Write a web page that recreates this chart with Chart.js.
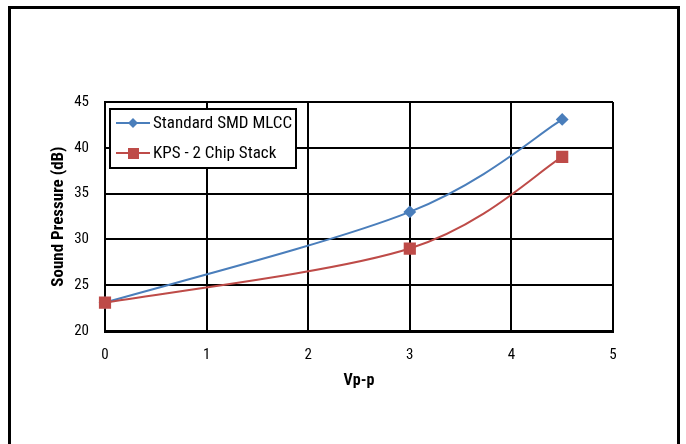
<!DOCTYPE html>
<html>
<head>
<meta charset="utf-8">
<script src="https://cdn.jsdelivr.net/npm/chart.js@4/dist/chart.umd.min.js"></script>
<style>
  html, body { margin: 0; padding: 0; background: #fff; }
  #box { width: 686px; height: 444px; position: relative; }
</style>
</head>
<body>
<div id="box"><canvas id="chart" width="686" height="444"></canvas></div>
<script>
// values
const voltages = [0, 3, 4.5];
const standardSmd = [23.1, 33.0, 43.1];
const kpsStack = [23.1, 29.0, 39.0];
const seriesNames = ["Standard SMD MLCC", "KPS - 2 Chip Stack"];
const xTicks = [0, 1, 2, 3, 4, 5];
const yTicks = [20, 25, 30, 35, 40, 45];

const FONT = "'Roboto Condensed', 'Liberation Sans Narrow', 'DejaVu Sans Condensed', Roboto, sans-serif";
const blue = "#4a7ebb";
const red = "#be4b48";

const toPoints = (ys) => voltages.map((v, i) => ({ x: v, y: ys[i] }));

// frame round the whole picture (open at the bottom)
const framePlugin = {
  id: "frame",
  beforeDraw(chart) {
    const ctx = chart.ctx;
    ctx.save();
    ctx.fillStyle = "#fff";
    ctx.fillRect(0, 0, chart.width, chart.height);
    ctx.strokeStyle = "#000";
    ctx.lineWidth = 3;
    ctx.strokeRect(9.5, 7.5, 669, 460);
    ctx.restore();
  }
};

// spreadsheet style smoothing: control points at 1/6 of the neighbour span
const smoothLines = {
  id: "smoothLines",
  beforeDatasetDraw(chart, args) {
    const pts = args.meta.data;
    pts.forEach((p, i) => {
      const prev = pts[i - 1] || p;
      const next = pts[i + 1] || p;
      const dx = (next.x - prev.x) / 6;
      const dy = (next.y - prev.y) / 6;
      p.cp1x = p.x - dx;
      p.cp1y = p.y - dy;
      p.cp2x = p.x + dx;
      p.cp2y = p.y + dy;
    });
    args.meta.dataset._pointsUpdated = true;
  }
};

// legend box drawn inside the plot, top left
const legendBox = {
  id: "legendBox",
  afterDraw(chart) {
    const ctx = chart.ctx;
    const x0 = 110, y0 = 109, w = 186, h = 59;
    ctx.save();
    ctx.fillStyle = "#fff";
    ctx.fillRect(x0, y0, w, h);
    ctx.strokeStyle = "#000";
    ctx.lineWidth = 2;
    ctx.strokeRect(x0, y0, w, h);
    chart.data.datasets.forEach((ds, i) => {
      const cy = y0 + 14 + i * 30;
      ctx.strokeStyle = ds.borderColor;
      ctx.lineWidth = 2;
      ctx.beginPath();
      ctx.moveTo(116, cy);
      ctx.lineTo(150, cy);
      ctx.stroke();
      ctx.fillStyle = ds.backgroundColor;
      ctx.beginPath();
      if (ds.pointStyle === "rectRot") {
        ctx.moveTo(133, cy - 5);
        ctx.lineTo(138, cy);
        ctx.lineTo(133, cy + 5);
        ctx.lineTo(128, cy);
      } else {
        ctx.rect(128, cy - 5, 11, 11);
      }
      ctx.fill();
      ctx.fillStyle = "#000";
      ctx.font = "17px " + FONT;
      ctx.textBaseline = "middle";
      ctx.textAlign = "left";
      ctx.fillText(ds.label, 153, cy + 1);
    });
    ctx.restore();
  }
};

new Chart(document.getElementById("chart"), {
  type: "line",
  plugins: [framePlugin, smoothLines, legendBox],
  data: {
    datasets: [
      {
        label: seriesNames[0],
        data: toPoints(standardSmd),
        borderColor: blue,
        backgroundColor: blue,
        borderWidth: 2,
        pointStyle: "rectRot",
        pointRadius: 5,
        pointHoverRadius: 5,
        tension: 0.4,
        order: 1,
        clip: false
      },
      {
        label: seriesNames[1],
        data: toPoints(kpsStack),
        borderColor: red,
        backgroundColor: red,
        borderWidth: 2,
        pointStyle: "rect",
        pointRadius: 7.2,
        pointHoverRadius: 7.2,
        tension: 0.4,
        order: 0,
        clip: false
      }
    ]
  },
  options: {
    responsive: false,
    animation: false,
    devicePixelRatio: 1,
    layout: { padding: { left: 40, right: 73, top: 102, bottom: 48 } },
    plugins: { legend: { display: false }, tooltip: { enabled: false } },
    scales: {
      x: {
        type: "linear",
        min: 0,
        max: 5,
        afterBuildTicks: (s) => { s.ticks = xTicks.map((v) => ({ value: v })); },
        afterFit: (s) => { s.height = 444 - 331 - 48; },
        grid: { color: "#000", lineWidth: 2, drawTicks: false },
        border: { color: "#000", width: 3 },
        ticks: { color: "#000", padding: 15, font: { family: FONT, size: 15 } },
        title: {
          display: true,
          text: "Vp-p",
          color: "#000",
          padding: { top: 0, bottom: 5 },
          font: { family: FONT, size: 16, weight: "bold" }
        }
      },
      y: {
        min: 20,
        max: 45,
        afterBuildTicks: (s) => { s.ticks = yTicks.map((v) => ({ value: v })); },
        afterFit: (s) => { s.width = 105 - 40; },
        grid: { color: "#000", lineWidth: 2, drawTicks: false },
        border: { color: "#000", width: 2 },
        ticks: { color: "#000", padding: 16, font: { family: FONT, size: 15 } },
        title: {
          display: true,
          text: "Sound Pressure (dB)",
          color: "#000",
          padding: { top: 9, bottom: 0 },
          font: { family: FONT, size: 17, weight: "bold" }
        }
      }
    }
  }
});
</script>
</body>
</html>
